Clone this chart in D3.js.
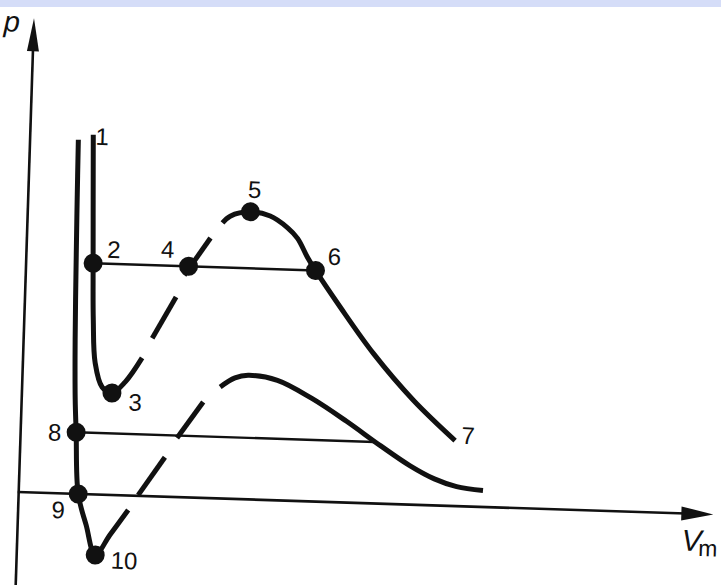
<!DOCTYPE html>
<html>
<head>
<meta charset="utf-8">
<script src="https://cdn.jsdelivr.net/npm/d3@7"></script>
<style>
  body { margin: 0; background: #fff; }
  svg { display: block; font-family: "Liberation Sans", Arial, sans-serif; }
</style>
</head>
<body>
<svg id="chart" width="721" height="585"></svg>
<script>
// ======================
// Dades: isotermes de van der Waals (V_m, p) en unitats arbitràries
// ======================
const xMax = 139;
const yMax = 94.8;
const yMin = -20;

// isoterma baixa (8-9-10)
const lowSolidLeft = [[9.65, 70.8], [9.8, 58.8], [10.0, 46.2], [10.3, 30.8], [10.7, 18.8], [11.1, 12.3],
  [11.9, 0], [13.7, -6.2], [15.7, -12.1], [18.5, -8.0], [22.0, -2.9]];
const lowDashes = [[[23.9, 0.15], [29.0, 7.9]], [[31.3, 11.8], [36.3, 19.2]]];
const lowSolidRight = [[39.6, 22.3], [42.5, 24.2], [45.1, 24.8], [51.0, 24.0], [58.0, 20.6], [65.0, 16.3],
  [72.0, 11.6], [78.0, 7.8], [83.0, 5.3], [87.5, 3.9], [92.8, 3.3]];

// isoterma alta (1-2-3-4-5-6-7)
const highSolidLeft = [[12.6, 71.9], [13.0, 58.9], [13.4, 46.2], [13.8, 34.9], [14.45, 26.3], [16.0, 21.5],
  [18.0, 20.4], [20.6, 22.7], [23.8, 27.6]];
const highDashes = [[[25.7, 31.6], [30.2, 40.0]], [[31.7, 44.4], [36.7, 52.0]]];
const highSolidRight = [[39.0, 55.1], [40.5, 56.5], [44.5, 57.5], [48.5, 56.8], [52.0, 54.6], [54.1, 52.5],
  [56.2, 48.8], [57.9, 46.2], [63.1, 39.0], [70.0, 30.0], [78.3, 20.9], [86.9, 13.1]];

// línies horitzontals (Maxwell)
const tieLines = [[[13.4, 46.2], [57.9, 46.2]], [[11.1, 12.3], [70.8, 12.3]]];

// punts numerats
const stateLabels = ["1", "2", "3", "4", "5", "6", "7", "8", "9", "10"];
const stateV = [12.6, 13.4, 18.0, 32.5, 44.5, 57.9, 86.9, 11.1, 11.9, 15.7];
const stateP = [71.9, 46.2, 20.4, 46.2, 57.5, 46.2, 13.1, 12.3, 0, -12.1];
const stateDot = [false, true, true, true, true, true, false, true, true, true];

// ======================
// Layout
// ======================
const svg = d3.select("#chart");
const W = 721, H = 585;
const ink = "#111";

svg.append("rect")
  .attr("width", W)
  .attr("height", 7)
  .attr("fill", "#d5ddf8");

const x = d3.scaleLinear().domain([0, xMax]).range([0, 695]);
const y = d3.scaleLinear().domain([0, yMax]).range([0, -474]);

// l'escaneig original està lleugerament girat
const g = svg.append("g")
  .attr("transform", "translate(18.7,492) rotate(1.85)");

const line = d3.line()
  .x(d => x(d[0]))
  .y(d => y(d[1]))
  .curve(d3.curveCatmullRom.alpha(0.5));

// =========================
// Eixos
// =========================
g.append("line")
  .attr("x1", x(0)).attr("y1", y(yMin))
  .attr("x2", x(0)).attr("y2", y(yMax) + 20)
  .attr("stroke", ink)
  .attr("stroke-width", 2.6);

g.append("path")
  .attr("d", `M${x(0)},${y(yMax)} L${x(0) - 6},${y(yMax) + 33} L${x(0) + 6},${y(yMax) + 33} Z`)
  .attr("fill", ink);

g.append("line")
  .attr("x1", x(0) - 1).attr("y1", y(0))
  .attr("x2", x(xMax) - 20).attr("y2", y(0))
  .attr("stroke", ink)
  .attr("stroke-width", 2.6);

g.append("path")
  .attr("d", `M${x(xMax)},${y(0)} L${x(xMax) - 32},${y(0) - 7} L${x(xMax) - 32},${y(0) + 7} Z`)
  .attr("fill", ink);

g.append("text")
  .attr("x", x(0) - 30)
  .attr("y", y(yMax) + 14)
  .text("p")
  .style("font-size", "29px")
  .style("font-style", "italic")
  .style("fill", ink);

const vm = g.append("text")
  .attr("x", x(xMax) - 31)
  .attr("y", y(0) + 37)
  .style("fill", ink);
vm.append("tspan")
  .text("V")
  .style("font-size", "30px")
  .style("font-style", "italic");
vm.append("tspan")
  .attr("dx", -3)
  .attr("dy", 5)
  .text("m")
  .style("font-size", "23px");

// =========================
// Línies horitzontals
// =========================
g.selectAll(".tie")
  .data(tieLines)
  .enter()
  .append("path")
  .attr("class", "tie")
  .attr("d", d3.line().x(d => x(d[0])).y(d => y(d[1])))
  .attr("fill", "none")
  .attr("stroke", ink)
  .attr("stroke-width", 2.4);

// =========================
// Isotermes
// =========================
[lowSolidLeft, lowSolidRight, highSolidLeft, highSolidRight].forEach(seg => {
  g.append("path")
    .attr("d", line(seg))
    .attr("fill", "none")
    .attr("stroke", ink)
    .attr("stroke-width", 5);
});

g.selectAll(".dash")
  .data(lowDashes.concat(highDashes))
  .enter()
  .append("line")
  .attr("class", "dash")
  .attr("x1", d => x(d[0][0])).attr("y1", d => y(d[0][1]))
  .attr("x2", d => x(d[1][0])).attr("y2", d => y(d[1][1]))
  .attr("stroke", ink)
  .attr("stroke-width", 5);

// =========================
// Punts i etiquetes
// =========================
const states = stateLabels.map((l, i) => ({ label: l, v: stateV[i], p: stateP[i], dot: stateDot[i] }));

g.selectAll(".dot")
  .data(states.filter(d => d.dot))
  .enter()
  .append("circle")
  .attr("class", "dot")
  .attr("cx", d => x(d.v))
  .attr("cy", d => y(d.p))
  .attr("r", 9.5)
  .attr("fill", ink);

const labelOffset = {
  "1": [9, 10], "2": [20.5, -6], "3": [23.5, 17], "4": [-21.5, -8], "5": [3.5, -14],
  "6": [18.5, -6], "7": [13, 3], "8": [-21.5, 9], "9": [-19.5, 25], "10": [29, 13]
};

g.selectAll(".lbl")
  .data(states)
  .enter()
  .append("text")
  .attr("class", "lbl")
  .attr("x", d => x(d.v) + labelOffset[d.label][0])
  .attr("y", d => y(d.p) + labelOffset[d.label][1])
  .attr("text-anchor", "middle")
  .text(d => d.label)
  .style("font-size", "24px")
  .style("fill", ink);
</script>
</body>
</html>
